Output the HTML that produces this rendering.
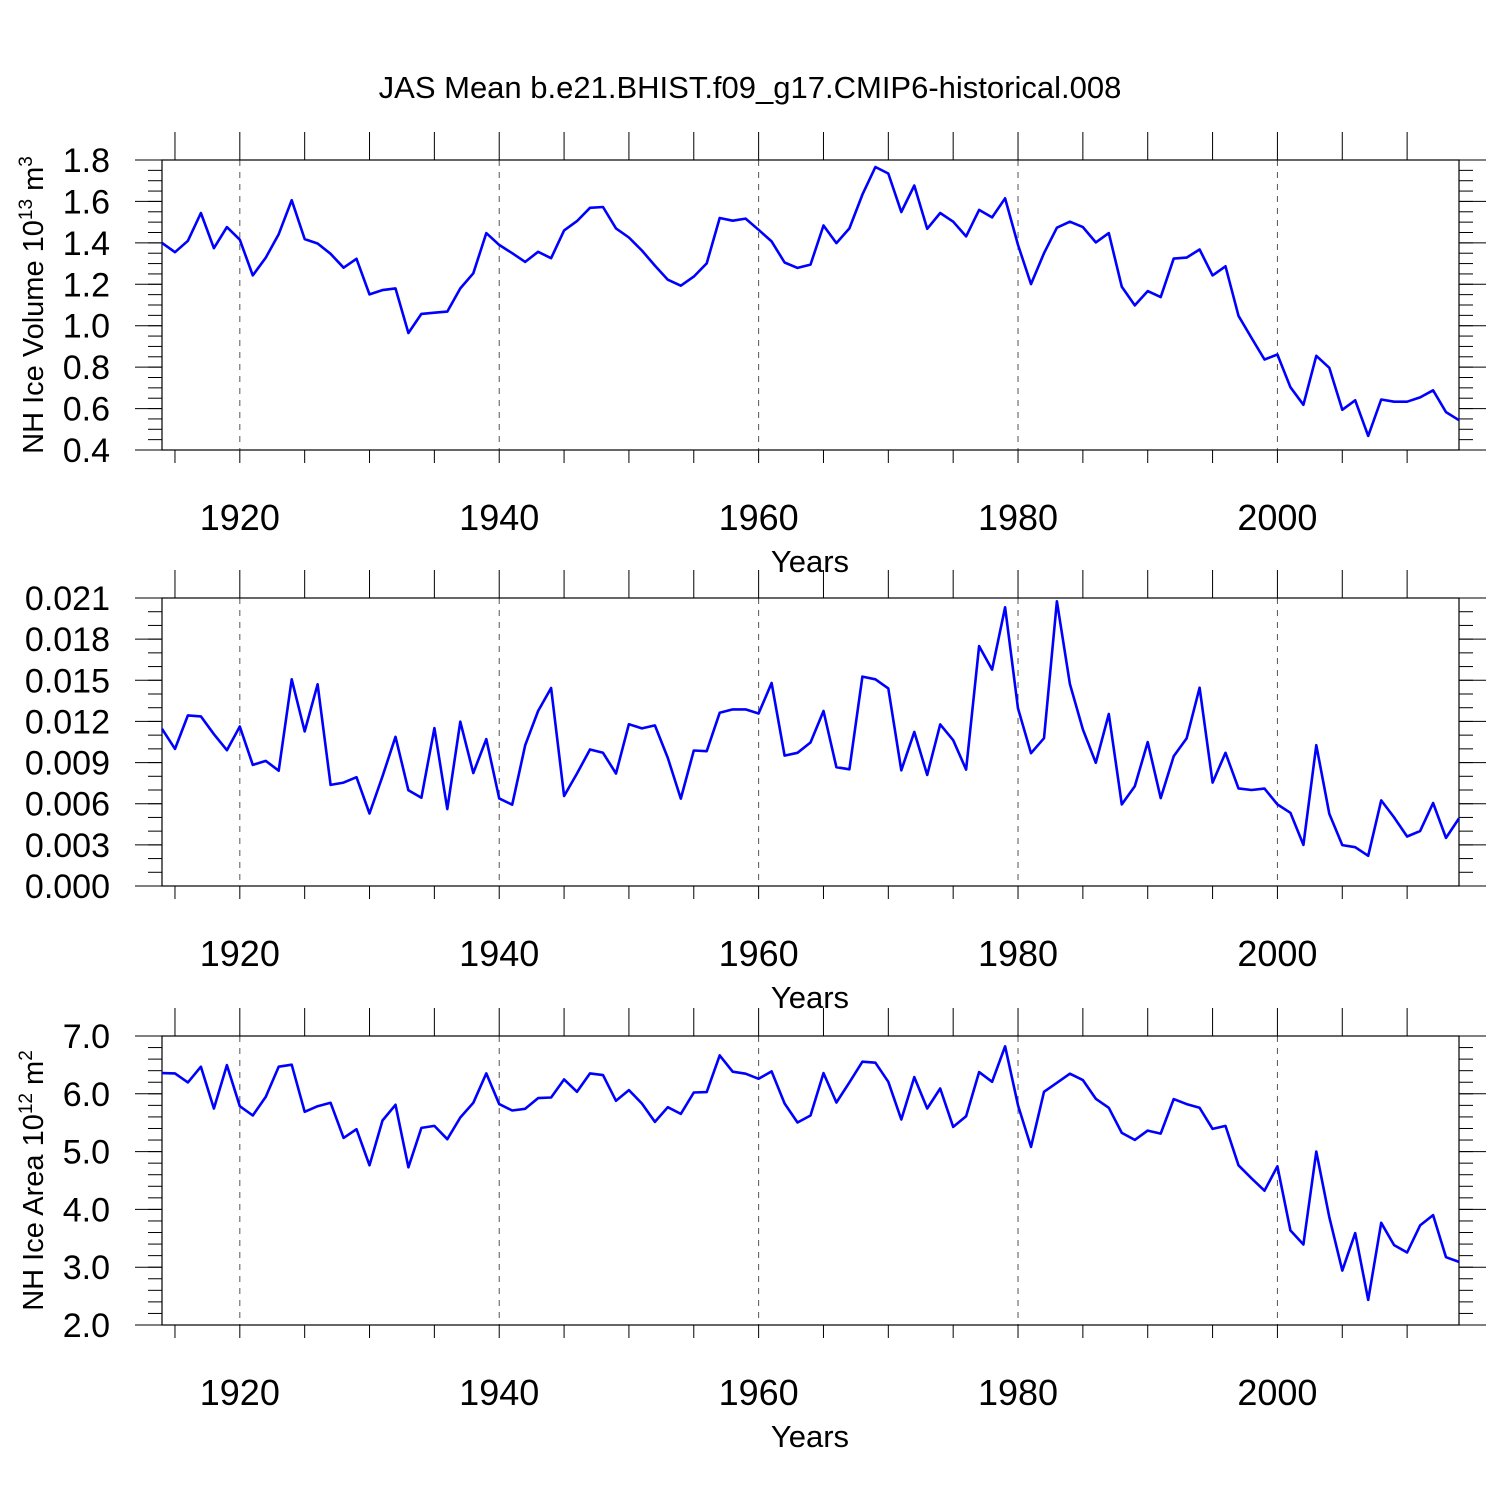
<!DOCTYPE html>
<html><head><meta charset="utf-8"><style>
html,body{margin:0;padding:0;background:#fff;}
svg{display:block;font-family:"Liberation Sans",sans-serif;}
</style></head><body>
<svg id="chart" width="1500" height="1500" viewBox="0 0 1500 1500" xmlns="http://www.w3.org/2000/svg">
<rect width="1500" height="1500" fill="#fff"/>
<text x="750" y="98" font-size="31" text-anchor="middle">JAS Mean b.e21.BHIST.f09_g17.CMIP6-historical.008</text>
<g id="plots"></g>
</svg>
<script>
const startYear = 1914;
const iceVolume = [1.40,1.355,1.41,1.544,1.374,1.476,1.415,1.243,1.329,1.442,1.606,1.418,1.397,1.347,1.280,1.323,1.151,1.172,1.180,0.965,1.057,1.063,1.068,1.180,1.253,1.447,1.390,1.350,1.308,1.357,1.326,1.460,1.505,1.569,1.573,1.470,1.426,1.363,1.290,1.222,1.193,1.237,1.301,1.520,1.507,1.517,1.463,1.407,1.305,1.279,1.295,1.484,1.399,1.470,1.633,1.766,1.735,1.549,1.677,1.468,1.544,1.502,1.431,1.559,1.523,1.615,1.390,1.201,1.350,1.473,1.502,1.476,1.402,1.447,1.188,1.098,1.167,1.138,1.324,1.329,1.368,1.243,1.287,1.048,0.941,0.837,0.861,0.703,0.618,0.855,0.797,0.594,0.640,0.468,0.644,0.633,0.633,0.654,0.688,0.583,0.544];
const snowVolume = [0.01146,0.0100,0.01244,0.01237,0.01107,0.00990,0.01163,0.00883,0.00912,0.00841,0.01507,0.01127,0.01471,0.00737,0.00754,0.00793,0.00529,0.0080,0.01088,0.00698,0.00644,0.01151,0.00561,0.01198,0.00824,0.01071,0.00639,0.00593,0.01027,0.01276,0.01444,0.00656,0.0082,0.00995,0.00971,0.00820,0.01180,0.01149,0.01171,0.00934,0.00637,0.00988,0.00983,0.01263,0.01288,0.01288,0.01258,0.01480,0.00951,0.00971,0.01046,0.01276,0.00866,0.00851,0.01527,0.01507,0.01441,0.00844,0.01124,0.00810,0.01178,0.01063,0.00849,0.01749,0.01578,0.02032,0.01295,0.00968,0.01078,0.02076,0.01473,0.01141,0.00898,0.01254,0.00595,0.00727,0.01049,0.00641,0.00946,0.01076,0.01446,0.00754,0.00971,0.00712,0.00700,0.00710,0.00595,0.00534,0.00300,0.01027,0.00527,0.00298,0.00283,0.00220,0.00624,0.00500,0.00361,0.00400,0.00605,0.00351,0.00493];
const iceArea = [6.358,6.353,6.197,6.468,5.746,6.497,5.786,5.624,5.948,6.468,6.503,5.688,5.786,5.844,5.237,5.387,4.763,5.538,5.809,4.728,5.410,5.445,5.214,5.590,5.844,6.353,5.821,5.711,5.740,5.925,5.936,6.249,6.035,6.353,6.324,5.879,6.064,5.832,5.514,5.769,5.653,6.023,6.029,6.665,6.382,6.347,6.260,6.387,5.832,5.503,5.624,6.358,5.850,6.197,6.555,6.538,6.208,5.555,6.289,5.746,6.092,5.428,5.613,6.376,6.208,6.821,5.803,5.081,6.035,6.191,6.347,6.237,5.913,5.757,5.324,5.202,5.364,5.312,5.908,5.821,5.757,5.393,5.445,4.763,4.538,4.324,4.746,3.636,3.393,5.000,3.867,2.942,3.590,2.434,3.769,3.382,3.254,3.723,3.902,3.173,3.092];
const yearTicks = [1920,1940,1960,1980,2000];
const volTicks = ["0.4","0.6","0.8","1.0","1.2","1.4","1.6","1.8"];
const snowTicks = ["0.000","0.003","0.006","0.009","0.012","0.015","0.018","0.021"];
const areaTicks = ["2.0","3.0","4.0","5.0","6.0","7.0"];

const NS = "http://www.w3.org/2000/svg";
const root = document.getElementById('plots');
const X0 = 162, X1 = 1459, Y_START = 1914, Y_END = 2014;
function xs(y){ return X0 + (y - Y_START) / (Y_END - Y_START) * (X1 - X0); }
function mk(tag, attrs, parent){ const e = document.createElementNS(NS, tag); for (const k in attrs) e.setAttribute(k, attrs[k]); (parent||root).appendChild(e); return e; }

function panel(name, top, bot, ymin, ymax, ticks, minorStep, data, labelMain, labelSup1, labelSup2, labelX){
  const g = mk('g', {});
  
  
  const ys = v => bot - (v - ymin) / (ymax - ymin) * (bot - top);
  yearTicks.forEach(yr => {
    const l = mk('line', {x1: xs(yr), x2: xs(yr), y1: top, y2: bot, stroke: '#555', 'stroke-width': 1, 'stroke-dasharray': '6,6'}, g);
    
    
  });
  for (let yr = 1915; yr <= 2010; yr += 5) {
    mk('line', {x1: xs(yr), x2: xs(yr), y1: top - 28, y2: top, stroke: '#000', 'stroke-width': 1}, g);
    mk('line', {x1: xs(yr), x2: xs(yr), y1: bot, y2: bot + 13, stroke: '#000', 'stroke-width': 1}, g);
  }
  const nMinor = Math.round((ymax - ymin) / minorStep);
  for (let i = 0; i <= nMinor; i++) {
    const y = ys(ymin + i * minorStep);
    mk('line', {x1: X0 - 14, x2: X0, y1: y, y2: y, stroke: '#000', 'stroke-width': 1}, g);
    mk('line', {x1: X1, x2: X1 + 14, y1: y, y2: y, stroke: '#000', 'stroke-width': 1}, g);
  }
  ticks.forEach(t => {
    const y = ys(parseFloat(t));
    mk('line', {x1: X0 - 27, x2: X0, y1: y, y2: y, stroke: '#000', 'stroke-width': 1}, g);
    mk('line', {x1: X1, x2: X1 + 27, y1: y, y2: y, stroke: '#000', 'stroke-width': 1}, g);
    const tx = mk('text', {x: 110, y: y + 12, 'font-size': 34, 'text-anchor': 'end'}, g);
    tx.textContent = t;
    
    
  });
  yearTicks.forEach(yr => {
    const tx = mk('text', {x: xs(yr), y: bot + 80, 'font-size': 36, 'text-anchor': 'middle'}, g);
    tx.textContent = yr;
    
    
  });
  const xt = mk('text', {x: 810, y: bot + 122, 'font-size': 31, 'text-anchor': 'middle'}, g);
  xt.textContent = 'Years';
  
  
  const b = mk('rect', {x: X0, y: top, width: X1 - X0, height: bot - top, fill: 'none', stroke: '#000', 'stroke-width': 1.2}, g);
  
  
  const pts = data.map((v, i) => xs(startYear + i).toFixed(1) + ',' + ys(v).toFixed(1)).join(' ');
  const pl = mk('polyline', {points: pts, fill: 'none', stroke: '#0000ff', 'stroke-width': 2.6, 'stroke-linejoin': 'round'}, g);
  
  
  const cy = (top + bot) / 2;
  const yl = mk('text', {x: 0, y: 0, 'font-size': 29, 'text-anchor': 'middle', transform: 'translate(' + labelX + ',' + cy + ') rotate(-90)'}, g);
  
  
  const t1 = mk('tspan', {}, yl); t1.textContent = labelMain;
  const t2 = mk('tspan', {dy: -11, 'font-size': 19}, yl); t2.textContent = labelSup1;
  const t3 = mk('tspan', {dy: 11}, yl); t3.textContent = ' m';
  const t4 = mk('tspan', {dy: -11, 'font-size': 19}, yl); t4.textContent = labelSup2;
}

panel('ice-volume', 160, 450, 0.4, 1.8, volTicks, 0.05, iceVolume, 'NH Ice Volume 10', '13', '3', 43);
panel('snow-volume', 598, 886, 0, 0.021, snowTicks, 0.001, snowVolume, 'NH Snow Volume 10', '13', '3', -16);
panel('ice-area', 1036, 1325, 2, 7, areaTicks, 0.2, iceArea, 'NH Ice Area 10', '12', '2', 43);
</script>
</body></html>
